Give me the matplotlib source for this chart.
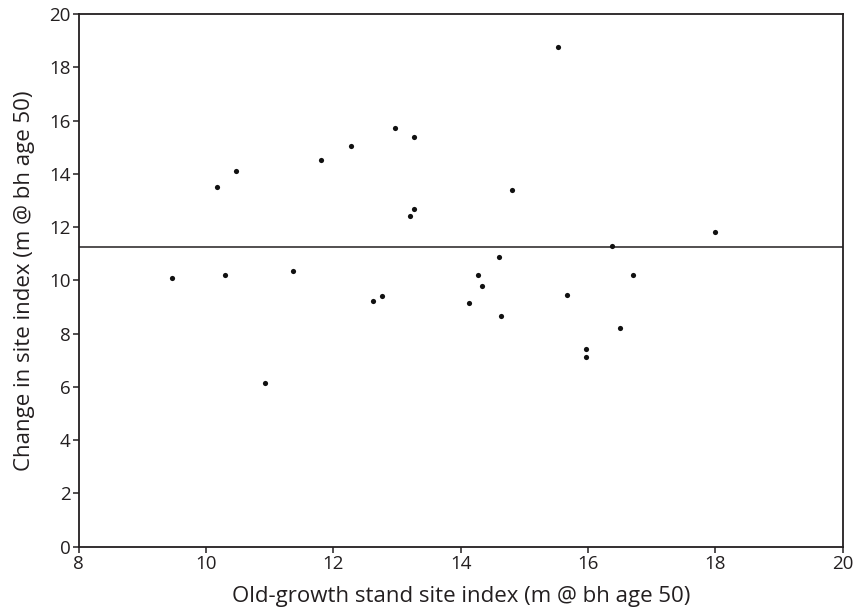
import matplotlib.pyplot as plt

old_growth_si=[9.47,10.17,10.47,10.30,11.37,11.80,12.27,12.97,13.27,13.20,13.27,12.63,12.77,
               15.53,14.80,18.00,16.37,14.60,14.27,14.33,16.70,15.67,14.13,14.63,16.50,15.97,15.97,10.93]
change_si=[10.09,13.51,14.10,10.20,10.36,14.50,15.03,15.73,15.39,12.41,12.67,9.21,9.41,
           18.77,13.41,11.82,11.29,10.88,10.19,9.80,10.19,9.44,9.14,8.66,8.20,7.42,7.12,6.14]
mean_change=11.25

x_ticks=[8,10,12,14,16,18,20]
y_ticks=[0,2,4,6,8,10,12,14,16,18,20]

plt.rcParams['font.family']=['Open Sans','DejaVu Sans']
dark='#231f20'

fig=plt.figure(figsize=(8.63,6.14),dpi=100)
ax=fig.add_axes([0.0912,0.1096,0.8853,0.8676])

ax.axhline(mean_change,color=dark,linewidth=1.1,zorder=1)
ax.scatter(old_growth_si,change_si,s=14,color='#111111',zorder=2,linewidths=0)

ax.set_xlim(8,20)
ax.set_ylim(0,20)
ax.set_xticks(x_ticks)
ax.set_yticks(y_ticks)
ax.tick_params(direction='out',length=4,width=1.1,color=dark,labelsize=13.5,labelcolor=dark,pad=2)
for s in ax.spines.values():
    s.set_color(dark)
    s.set_linewidth(1.3)

ax.set_xlabel('Old-growth stand site index (m @ bh age 50)',fontsize=16,color=dark,labelpad=9)
ax.set_ylabel('Change in site index (m @ bh age 50)',fontsize=16,color=dark,labelpad=10)

fig.savefig('out.png',dpi=100)
